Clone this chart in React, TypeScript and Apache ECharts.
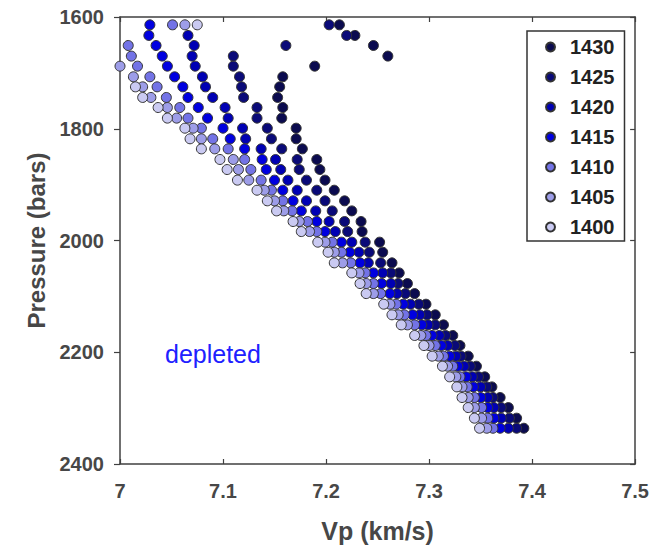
import React, { useEffect, useRef } from "react";
import * as echarts from "echarts";

// Pressure (bars) of each row of points, top to bottom
const pressureRows = [
  1614, 1633, 1651, 1670, 1688, 1707, 1725, 1744, 1762, 1781,
  1799, 1818, 1836, 1855, 1873, 1892, 1910, 1929, 1947, 1966,
  1984, 2003, 2021, 2040, 2058, 2077, 2095, 2114, 2133, 2151,
  2170, 2188, 2207, 2225, 2244, 2262, 2281, 2299, 2318, 2336,
];

// Vp (km/s) per row for each temperature; null = no point in that row
const vp1430 = [
  7.213, 7.228, 7.246, 7.26, 7.189, 7.158, 7.155, 7.153, 7.158, 7.157,
  7.171, 7.171, 7.177, 7.191, 7.194, 7.199, 7.208, 7.218, 7.225, 7.234,
  7.235, 7.252, 7.255, 7.264, 7.271, 7.279, 7.286, 7.297, 7.306, 7.314,
  7.323, 7.33, 7.338, 7.346, 7.354, 7.361, 7.369, 7.377, 7.385, 7.392,
];
const vp1425 = [
  7.203, 7.22, 7.161, 7.11, 7.11, 7.116, 7.118, 7.12, 7.133, 7.133,
  7.143, 7.147, 7.157, 7.172, 7.174, 7.181, 7.191, 7.199, 7.206, 7.218,
  7.221, 7.238, 7.242, 7.253, 7.263, 7.27, 7.277, 7.29, 7.298, 7.306,
  7.316, 7.325, 7.331, 7.34, 7.348, 7.356, 7.362, 7.37, 7.378, 7.385,
];
const vp1420 = [
  null, 7.066, 7.072, 7.07, 7.073, 7.08, 7.083, 7.09, 7.102, 7.105,
  7.119, 7.122, 7.137, 7.151, 7.156, 7.163, 7.172, 7.181, 7.19, 7.203,
  7.209, 7.225, 7.232, 7.241, 7.255, 7.263, 7.269, 7.282, 7.291, 7.299,
  7.31, 7.318, 7.326, 7.334, 7.342, 7.35, 7.357, 7.363, 7.37, 7.377,
];
const vp1415 = [
  7.029, 7.028, 7.035, 7.041, 7.046, 7.053, 7.061, 7.066, 7.076, 7.085,
  7.1, 7.107, 7.121, 7.138, 7.142, 7.15, 7.158, 7.168, 7.176, 7.191,
  7.199, 7.215, 7.223, 7.233, 7.246, 7.254, 7.262, 7.275, 7.284, 7.293,
  7.303, 7.312, 7.32, 7.328, 7.336, 7.343, 7.35, 7.357, 7.363, 7.369,
];
const vp1410 = [
  7.051, null, 7.008, 7.011, 7.017, 7.029, 7.036, 7.045, 7.058, 7.066,
  7.079, 7.09, 7.105, 7.121, 7.127, 7.137, 7.147, 7.158, 7.167, 7.182,
  7.191, 7.206, 7.215, 7.224, 7.238, 7.246, 7.253, 7.268, 7.276, 7.286,
  7.297, 7.306, 7.314, 7.323, 7.33, 7.337, 7.344, 7.351, 7.357, 7.362,
];
const vp1405 = [
  7.063, null, null, null, 7.0, 7.013, 7.022, 7.03, 7.046, 7.055,
  7.071, 7.079, 7.092, 7.11, 7.115, 7.125, 7.14, 7.15, 7.159, 7.174,
  7.184, 7.199, 7.208, 7.216, 7.232, 7.239, 7.246, 7.262, 7.27, 7.279,
  7.292, 7.3, 7.309, 7.318, 7.326, 7.332, 7.338, 7.344, 7.351, 7.356,
];
const vp1400 = [
  7.075, null, null, null, null, null, 7.015, 7.022, 7.037, 7.046,
  7.063, 7.068, 7.079, 7.097, 7.104, 7.114, 7.133, 7.143, 7.152, 7.168,
  7.176, 7.192, 7.202, 7.208, 7.225, 7.233, 7.239, 7.256, 7.264, 7.273,
  7.286, 7.295, 7.303, 7.313, 7.32, 7.327, 7.332, 7.338, 7.344, 7.349,
];

const seriesNames = ["1430", "1425", "1420", "1415", "1410", "1405", "1400"];
const seriesValues = [vp1430, vp1425, vp1420, vp1415, vp1410, vp1405, vp1400];
const seriesColors = ["#0b0b4f", "#0a0a78", "#0000b4", "#0000e0", "#7373e6", "#9d9de8", "#cacaf2"];

const xTicks = [7, 7.1, 7.2, 7.3, 7.4, 7.5];
const yTicks = [1600, 1800, 2000, 2200, 2400];

const FONT = "'Liberation Sans', Arial, Helvetica, sans-serif";

export default function App() {
  const ref = useRef<HTMLDivElement>(null);

  useEffect(() => {
    const chart = echarts.init(ref.current as HTMLDivElement, null, { renderer: "svg" });
    const axisColor = "#404040";
    const labelColor = "#474747";

    const series = seriesNames.map((name, i) => ({
      name,
      type: "scatter",
      xAxisIndex: 0,
      yAxisIndex: 0,
      symbol: "circle",
      symbolSize: 10,
      clip: false,
      itemStyle: { color: seriesColors[i], borderColor: "#333", borderWidth: 1, opacity: 1 },
      emphasis: { disabled: true },
      data: seriesValues[i]
        .map((v, r) => (v == null ? null : [v, pressureRows[r]]))
        .filter((d) => d !== null),
    }));

    const commonLine = { show: true, onZero: false, lineStyle: { color: axisColor, width: 1.5 } };

    chart.setOption({
      animation: false,
      backgroundColor: "#fff",
      grid: { left: 120, right: 15, top: 17, bottom: 88, containLabel: false },
      xAxis: [
        {
          type: "value",
          position: "bottom",
          min: xTicks[0],
          max: xTicks[xTicks.length - 1],
          interval: 0.1,
          name: "Vp (km/s)",
          nameLocation: "middle",
          nameGap: 54,
          nameTextStyle: { fontSize: 25, fontWeight: "bold", color: labelColor, fontFamily: FONT },
          axisLine: commonLine,
          axisTick: { show: true, inside: true, length: 5, lineStyle: { color: axisColor, width: 1.2 } },
          axisLabel: {
            fontSize: 20,
            fontWeight: "bold",
            color: labelColor,
            fontFamily: FONT,
            margin: 17,
            formatter: (v: number) => String(Number(v.toFixed(1))),
          },
          splitLine: { show: false },
        },
        {
          type: "value",
          position: "top",
          min: xTicks[0],
          max: xTicks[xTicks.length - 1],
          interval: 0.1,
          axisLine: commonLine,
          axisTick: { show: true, inside: true, length: 5, lineStyle: { color: axisColor, width: 1.2 } },
          axisLabel: { show: false },
          splitLine: { show: false },
        },
      ],
      yAxis: [
        {
          type: "value",
          position: "left",
          inverse: true,
          min: yTicks[0],
          max: yTicks[yTicks.length - 1],
          interval: 200,
          name: "Pressure (bars)",
          nameLocation: "middle",
          nameGap: 72,
          nameRotate: 90,
          nameTextStyle: { fontSize: 24, fontWeight: "bold", color: labelColor, fontFamily: FONT },
          axisLine: commonLine,
          axisTick: { show: true, inside: false, length: 6, lineStyle: { color: axisColor, width: 1.2 } },
          axisLabel: {
            fontSize: 20,
            fontWeight: "bold",
            color: labelColor,
            fontFamily: FONT,
            margin: 16,
            formatter: (v: number) => String(Math.round(v)),
          },
          splitLine: { show: false },
        },
        {
          type: "value",
          position: "right",
          inverse: true,
          min: yTicks[0],
          max: yTicks[yTicks.length - 1],
          interval: 200,
          axisLine: commonLine,
          axisTick: { show: true, inside: true, length: 5, lineStyle: { color: axisColor, width: 1.2 } },
          axisLabel: { show: false },
          splitLine: { show: false },
        },
      ],
      legend: {
        show: true,
        orient: "vertical",
        left: 527,
        top: 31,
        data: seriesNames,
        icon: "circle",
        itemWidth: 9,
        itemHeight: 9,
        itemGap: 10,
        padding: [6, 10, 4, 18],
        borderColor: "#333",
        borderWidth: 1.5,
        backgroundColor: "#fff",
        selectedMode: false,
        textStyle: { fontSize: 20, fontWeight: "bold", color: "#222", fontFamily: FONT, padding: [0, 0, 0, 10] },
      },
      graphic: [
        {
          type: "text",
          left: 165,
          top: 341,
          style: { text: "depleted", fontSize: 25, fill: "#2020ff", fontFamily: FONT },
        },
      ],
      series,
    });

    return () => chart.dispose();
  }, []);

  return (
    <div
      ref={ref}
      style={{ position: "fixed", left: 0, top: 0, width: 652, height: 552, background: "#fff" }}
    />
  );
}
